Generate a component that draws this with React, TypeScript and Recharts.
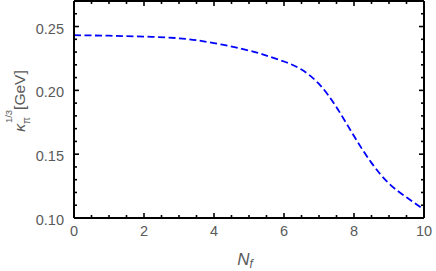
import React from 'react';
import { LineChart, Line, XAxis, YAxis } from 'recharts';

const nf = [0, 1, 2, 3, 4, 5, 5.5, 6, 6.5, 7, 7.5, 8, 8.5, 9, 9.5, 10];
const kappa = [0.2432, 0.2428, 0.2421, 0.2408, 0.2370, 0.2312, 0.2272, 0.2226, 0.2163, 0.2050, 0.1868, 0.1642, 0.1432, 0.1270, 0.1162, 0.1065];

const xMajor = [0, 2, 4, 6, 8, 10];
const xMinor = [0.5, 1, 1.5, 2.5, 3, 3.5, 4.5, 5, 5.5, 6.5, 7, 7.5, 8.5, 9, 9.5];
const yMajor = [0.1, 0.15, 0.2, 0.25];
const yMinor = [0.11, 0.12, 0.13, 0.14, 0.16, 0.17, 0.18, 0.19, 0.21, 0.22, 0.23, 0.24, 0.26, 0.27];

const data = nf.map((n, i) => ({ nf: n, k: kappa[i] }));
const xTicks = [...xMajor, ...xMinor].sort((a, b) => a - b);
const yTicks = [...yMajor, ...yMinor].sort((a, b) => a - b);

const FONT = '"Liberation Sans", Arial, sans-serif';
const GRAY = '#5a5a5a';
const isMajorX = (v: number) => xMajor.some((m) => Math.abs(m - v) < 1e-9);
const isMajorY = (v: number) => yMajor.some((m) => Math.abs(m - v) < 1e-9);
const MAJ = 5;
const MIN = 3;
const TC = '#000';

const BottomTick = (p: any) => {
  const major = isMajorX(p.payload.value);
  const len = major ? MAJ : MIN;
  return (
    <g>
      <path d={`M${p.x},${p.y}V${p.y - len}`} stroke={TC} strokeWidth={1.6} />
      {major ? (
        <text x={p.x} y={p.y + 18} textAnchor="middle" fontSize={14.5} fill={GRAY} fontFamily={FONT}>
          {p.payload.value}
        </text>
      ) : null}
    </g>
  );
};
const TopTick = (p: any) => {
  const major = isMajorX(p.payload.value);
  const len = major ? MAJ : MIN;
  return <path d={`M${p.x},${p.y}V${p.y + len}`} stroke={TC} strokeWidth={1.6} />;
};
const LeftTick = (p: any) => {
  const major = isMajorY(p.payload.value);
  const len = major ? MAJ : MIN;
  return (
    <g>
      <path d={`M${p.x},${p.y}H${p.x + len}`} stroke={TC} strokeWidth={1.6} />
      {major ? (
        <text x={p.x - 10} y={p.y + 7} textAnchor="end" fontSize={14.5} fill={GRAY} fontFamily={FONT}>
          {p.payload.value.toFixed(2)}
        </text>
      ) : null}
    </g>
  );
};
const RightTick = (p: any) => {
  const major = isMajorY(p.payload.value);
  const len = major ? MAJ : MIN;
  return <path d={`M${p.x},${p.y}H${p.x - len}`} stroke={TC} strokeWidth={1.6} />;
};

const YLabel = () => {
  const cx = 25;
  const cy = 101;
  return (
    <text
      x={cx}
      y={cy}
      transform={`rotate(-90 ${cx} ${cy})`}
      textAnchor="middle"
      fontSize={15.5}
      fill={GRAY}
      fontFamily={FONT}
    >
      <tspan fontStyle="italic">κ</tspan>
      <tspan fontSize={10} dy={5}>π</tspan>
      <tspan fontSize={9.5} dx={-6} dy={-18}>1/3</tspan>
      <tspan dy={13}>[GeV]</tspan>
    </text>
  );
};

const XLabel = (p: any) => {
  const vb = p.viewBox || {};
  const cx = (vb.x ?? 74) + (vb.width ?? 350) / 2 - 4;
  return (
    <text x={cx} y={265} textAnchor="middle" fontSize={17} fill={GRAY} fontFamily={FONT}>
      <tspan fontStyle="italic">N</tspan>
      <tspan fontStyle="italic" fontSize={12} dy={3}>f</tspan>
    </text>
  );
};

export default function App() {
  return (
    <div style={{ position: 'absolute', left: 0, top: 0, background: '#fff' }}>
      <LineChart width={436} height={271} data={data} margin={{ top: 0, right: 11, bottom: 0, left: 0 }}>
        <XAxis
          xAxisId="b"
          dataKey="nf"
          type="number"
          domain={[0, 10]}
          ticks={xTicks}
          interval={0}
          height={53}
          tickSize={0}
          tickMargin={0}
          tickLine={false}
          tick={<BottomTick />}
          axisLine={{ stroke: '#000', strokeWidth: 2 }}
          label={<XLabel />}
        />
        <XAxis
          xAxisId="t"
          orientation="top"
          dataKey="nf"
          type="number"
          domain={[0, 10]}
          ticks={xTicks}
          interval={0}
          height={1}
          tickSize={0}
          tickMargin={0}
          tickLine={false}
          tick={<TopTick />}
          axisLine={{ stroke: '#000', strokeWidth: 2 }}
        />
        <YAxis
          yAxisId="l"
          type="number"
          domain={[0.1, 0.27]}
          ticks={yTicks}
          interval={0}
          width={74}
          tickSize={0}
          tickMargin={0}
          tickLine={false}
          tick={<LeftTick />}
          axisLine={{ stroke: '#000', strokeWidth: 2 }}
          allowDataOverflow
          label={<YLabel />}
        />
        <YAxis
          yAxisId="r"
          orientation="right"
          type="number"
          domain={[0.1, 0.27]}
          ticks={yTicks}
          interval={0}
          width={1}
          tickSize={0}
          tickMargin={0}
          tickLine={false}
          tick={<RightTick />}
          axisLine={{ stroke: '#000', strokeWidth: 2 }}
          allowDataOverflow
        />
        <Line
          xAxisId="t"
          yAxisId="r"
          dataKey="k"
          stroke="none"
          dot={false}
          activeDot={false}
          isAnimationActive={false}
        />
        <Line
          xAxisId="b"
          yAxisId="l"
          dataKey="k"
          type="natural"
          stroke="#0000ff"
          strokeWidth={1.8}
          strokeDasharray="7 3.5"
          dot={false}
          isAnimationActive={false}
        />
      </LineChart>
    </div>
  );
}
